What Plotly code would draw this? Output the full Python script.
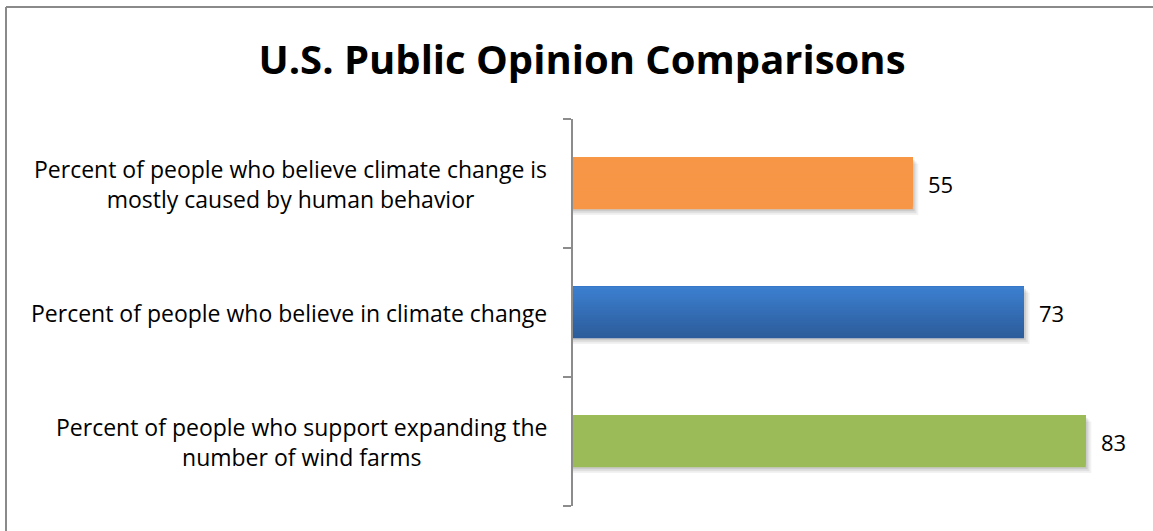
import plotly.graph_objects as go

# Survey categories (bottom to top as drawn on the category axis)
categories = [
    "Percent of people who support expanding the<br>number of wind farms",
    "Percent of people who believe in climate change",
    "Percent of people who believe climate change is<br>mostly caused by human behavior",
]
values = [83, 73, 55]
top_colors = ["#9bbb59", "#3c7fcf", "#f79646"]
bottom_colors = ["#9bbb59", "#2c5c9b", "#f79646"]

W, H = 1153, 531
L, R, T, B = 573, 24, 119, 25
BAR_W = 0.4
N_SLICES = 20
FONT = "Open Sans, Lato, DejaVu Sans, sans-serif"


def mix(c1, c2, t):
    a = [int(c1[i:i + 2], 16) for i in (1, 3, 5)]
    b = [int(c2[i:i + 2], 16) for i in (1, 3, 5)]
    return "rgb({},{},{})".format(*[round(a[k] + (b[k] - a[k]) * t) for k in range(3)])


fig = go.Figure()

# soft drop shadow under each bar
for dx, dy, alpha in [(0.9, 0.045, 0.05), (0.6, 0.03, 0.07), (0.3, 0.015, 0.09)]:
    fig.add_trace(go.Bar(
        y=categories, x=[v + dx for v in values], orientation="h",
        width=BAR_W, offset=-BAR_W / 2 - dy,
        marker=dict(color=f"rgba(0,0,0,{alpha})", line=dict(width=0)),
        hoverinfo="skip", showlegend=False,
    ))

# vertical gradient: each layer starts a little higher and runs to the top edge,
# so successive layers overlap without seams
sw = BAR_W / N_SLICES
for i in range(N_SLICES):
    t = i / (N_SLICES - 1)  # 0 at bottom, 1 at top
    fig.add_trace(go.Bar(
        y=categories, x=values, orientation="h",
        width=BAR_W - i * sw, offset=-BAR_W / 2 + i * sw,
        marker=dict(color=[mix(bc, tc, t) for bc, tc in zip(bottom_colors, top_colors)],
                    line=dict(width=0)),
        hoverinfo="skip", showlegend=False,
    ))

annotations = []
# category labels, centred multi-line text right-aligned against the axis
for c in categories:
    annotations.append(dict(
        x=0, xref="paper", y=c, yref="y", text=c, showarrow=False,
        xanchor="right", align="center", xshift=-24,
        font=dict(family=FONT, size=23, color="#000000"),
    ))
# value labels at the end of each bar
for c, v in zip(categories, values):
    annotations.append(dict(
        x=v, xref="x", y=c, yref="y", text=str(v), showarrow=False,
        xanchor="left", xshift=13,
        font=dict(family=FONT, size=22, color="#000000"),
    ))

pw, ph = W - L - R, H - T - B
def px(x):
    return (x - L) / pw
def py(y):
    return 1 - (y - T) / ph

shapes = [
    dict(type="line", xref="paper", yref="paper", x0=px(6), x1=px(W + 5), y0=py(7), y1=py(7),
         line=dict(color="#8a8a8a", width=2)),
    dict(type="line", xref="paper", yref="paper", x0=px(6), x1=px(6), y0=py(7), y1=py(H + 5),
         line=dict(color="#8a8a8a", width=2)),
]

fig.update_layout(
    width=W, height=H,
    margin=dict(l=L, r=R, t=T, b=B),
    paper_bgcolor="white", plot_bgcolor="white",
    barmode="overlay", bargap=0.6,
    title=dict(text="<b>U.S. Public Opinion Comparisons</b>", x=582 / W, xref="container",
               xanchor="center", y=1 - 60 / H, yref="container", yanchor="middle",
               font=dict(family=FONT, size=40, color="#000000")),
    xaxis=dict(range=[0, 90], visible=False),
    yaxis=dict(type="category", categoryorder="array", categoryarray=categories,
               range=[-0.5, 2.5], showticklabels=False, showgrid=False, zeroline=False,
               showline=True, linecolor="#8c8c8c", linewidth=2,
               ticks="outside", tickson="boundaries", ticklen=8, tickcolor="#8c8c8c",
               tickwidth=2),
    annotations=annotations,
    shapes=shapes,
)

fig.write_html("out.html")
